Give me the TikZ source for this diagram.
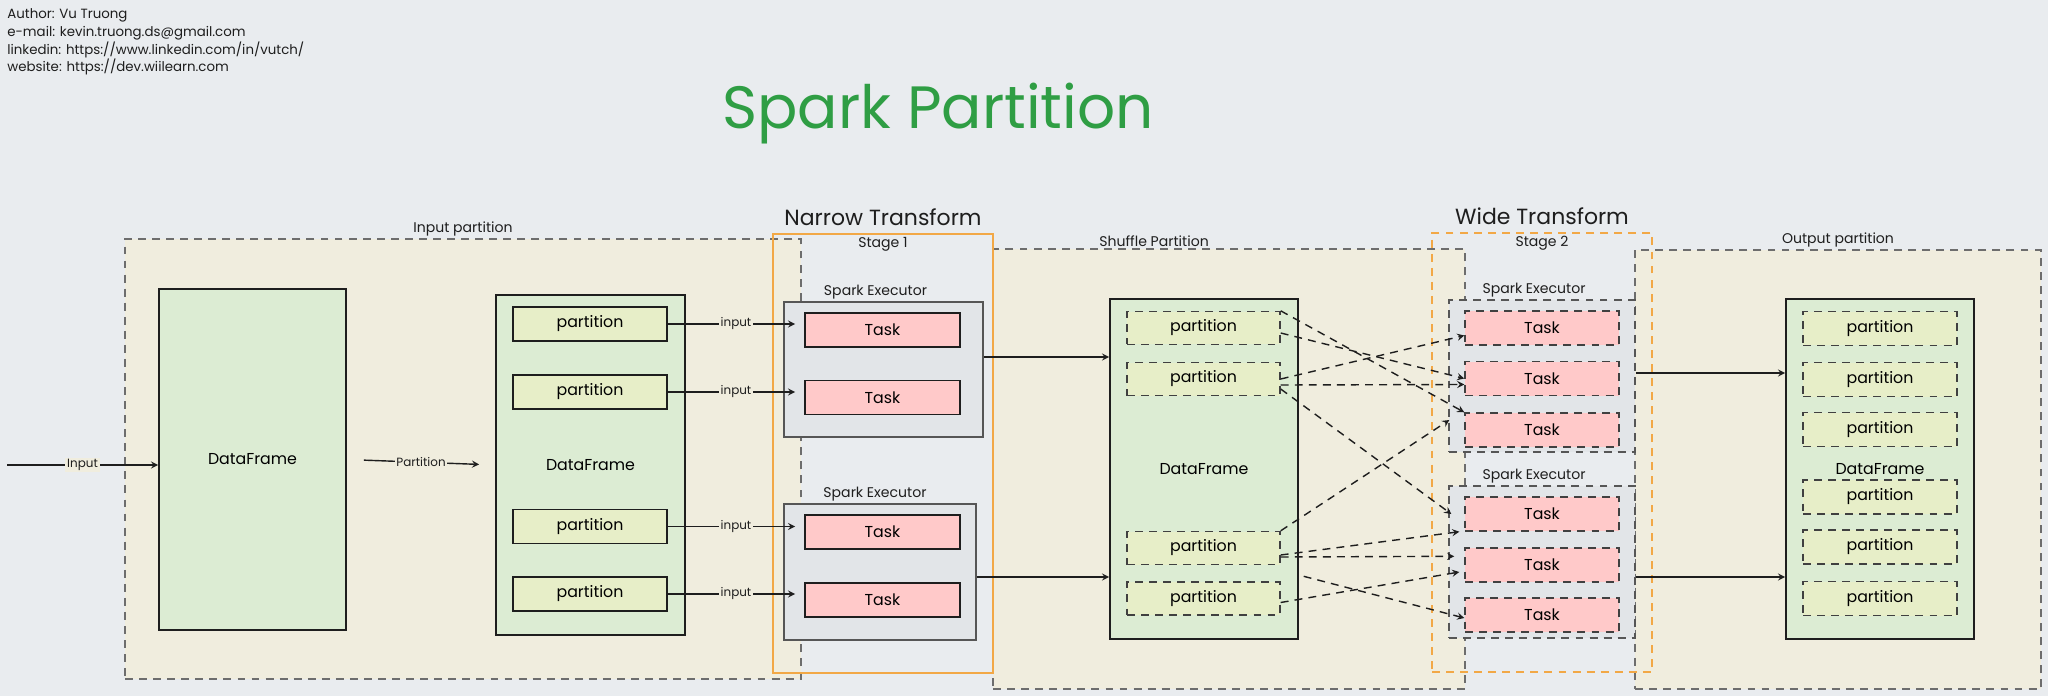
\documentclass[tikz,border=0pt]{standalone}
\usepackage{fontspec}
\setmainfont{Poppins}
\usetikzlibrary{shapes.geometric, arrows, positioning}

\definecolor{canvas}{RGB}{233,236,239}
\definecolor{beige}{RGB}{240,237,222}
\definecolor{dfgreen}{RGB}{220,236,211}
\definecolor{partyellow}{RGB}{231,238,200}
\definecolor{taskpink}{RGB}{255,201,201}
\definecolor{execgray}{RGB}{226,229,232}
\definecolor{stageorange}{RGB}{242,168,70}
\definecolor{titlegreen}{RGB}{47,158,68}
\definecolor{edge}{RGB}{30,30,30}

\begin{document}
\begin{tikzpicture}[x=0.02cm, y=-0.02cm]
        % Define block styles
        \tikzstyle{region} = [rectangle, draw=edge!65, dash pattern=on 4.5pt off 3.5pt, fill=beige, line width=0.8pt, inner sep=0pt]
        \tikzstyle{stage} = [rectangle, draw=stageorange, line width=0.9pt, inner sep=0pt]
        \tikzstyle{dstage} = [stage, dash pattern=on 4.5pt off 3.5pt]
        \tikzstyle{frame} = [rectangle, draw=edge, fill=dfgreen, line width=1pt, minimum width=3.76cm, minimum height=6.8cm, font=\fontsize{9}{11}\selectfont, inner sep=0pt]
        \tikzstyle{part} = [rectangle, draw=edge, fill=partyellow, line width=1pt, minimum width=3.08cm, minimum height=0.68cm, font=\fontsize{9}{11}\selectfont, inner sep=0pt]
        \tikzstyle{dpart} = [part, draw=edge!85, line width=0.8pt, dash pattern=on 4.5pt off 3.5pt]
        \tikzstyle{executor} = [rectangle, draw=edge!75, fill=execgray, line width=0.9pt, inner sep=0pt]
        \tikzstyle{dexecutor} = [executor, dash pattern=on 4.5pt off 3.5pt]
        \tikzstyle{task} = [rectangle, draw=edge, fill=taskpink, line width=1pt, minimum width=3.1cm, minimum height=0.68cm, font=\fontsize{9}{11}\selectfont, inner sep=0pt]
        \tikzstyle{dtask} = [task, draw=edge!85, line width=0.8pt, dash pattern=on 4.5pt off 3.5pt]
        \tikzstyle{arrow} = [->, >=stealth, line width=0.8pt, draw=edge]
        \tikzstyle{shuffle} = [arrow, dash pattern=on 4.5pt off 3.5pt]
        \tikzstyle{lbl} = [font=\fontsize{8}{10}\selectfont, text=edge, inner sep=1pt]
        \tikzstyle{tag} = [font=\fontsize{6.8}{8}\selectfont, text=edge, fill=beige, inner sep=1pt]
        \tikzstyle{heading} = [font=\fontsize{12.5}{15}\selectfont, text=edge, inner sep=1pt]

        \fill[canvas] (0,0) rectangle (2048,696);
        \useasboundingbox (0,0) rectangle (2048,696);

        % Header
        \node (author) [anchor=north west, align=left, font=\fontsize{7.6}{10.2}\selectfont, text=edge, inner sep=0pt] at (7,8) {Author: Vu Truong\\e-mail: kevin.truong.ds@gmail.com\\linkedin: https://www.linkedin.com/in/vutch/\\website: https://dev.wiilearn.com};
        \node (title) [font=\fontsize{34}{40}\selectfont, text=titlegreen] at (938,114) {Spark Partition};

        % Regions
        \node (inreg) [region, minimum width=13.52cm, minimum height=8.8cm, label={[lbl]above:Input partition}] at (463,459) {};
        \node (shreg) [region, minimum width=9.44cm, minimum height=8.8cm, label={[lbl, xshift=-1.5cm]above:Shuffle Partition}] at (1229,469) {};
        \node (outreg) [region, minimum width=8.12cm, minimum height=8.78cm, label={[lbl]above:Output partition}] at (1838,469.5) {};
        \node (stage1) [stage, minimum width=4.4cm, minimum height=8.78cm, label={[lbl, anchor=north, yshift=-1pt]north:Stage 1}, label={[heading, anchor=south, yshift=3pt]north:Narrow Transform}] at (883,453.5) {};
        \node (stage2) [dstage, minimum width=4.4cm, minimum height=8.78cm, label={[lbl, anchor=north, yshift=-1pt]north:Stage 2}, label={[heading, anchor=south, yshift=3pt]north:Wide Transform}] at (1542,452.5) {};

        % Input side
        \coordinate (src) at (7,465);
        \node (df1) [frame, minimum width=3.74cm, minimum height=6.82cm] at (252.5,459.5) {DataFrame};
        \node (df2) [frame, minimum width=3.78cm] at (590.5,465) {DataFrame};
        \node (ip1) [part] at (590,324) {partition};
        \node (ip2) [part] at (590,392) {partition};
        \node (ip3) [part] at (590,526.5) {partition};
        \node (ip4) [part] at (590,594) {partition};

        % Stage 1
        \node (ex1) [executor, minimum width=3.98cm, minimum height=2.7cm, label={[lbl, xshift=-0.16cm]above:Spark Executor}] at (883.5,369.5) {};
        \node (ex2) [executor, minimum width=3.84cm, minimum height=2.72cm, label={[lbl, xshift=-0.1cm]above:Spark Executor}] at (880,572) {};
        \node (t1) [task] at (882.5,330) {Task};
        \node (t2) [task] at (882.5,397.5) {Task};
        \node (t3) [task] at (882.5,532) {Task};
        \node (t4) [task] at (882.5,600) {Task};

        % Shuffle
        \node (df3) [frame] at (1204,469) {DataFrame};
        \node (sp1) [dpart, minimum width=3.06cm, minimum height=0.66cm] at (1203.5,328) {partition};
        \node (sp2) [dpart, minimum width=3.06cm, minimum height=0.66cm] at (1203.5,379) {partition};
        \node (sp3) [dpart, minimum width=3.06cm, minimum height=0.66cm] at (1203.5,548) {partition};
        \node (sp4) [dpart, minimum width=3.06cm, minimum height=0.66cm] at (1203.5,598.5) {partition};

        % Stage 2
        \node (ex3) [dexecutor, minimum width=3.72cm, minimum height=3.04cm, label={[lbl, xshift=-0.16cm]above:Spark Executor}] at (1542,376) {};
        \node (ex4) [dexecutor, minimum width=3.72cm, minimum height=3.04cm, label={[lbl, xshift=-0.16cm]above:Spark Executor}] at (1542,562) {};
        \node (u1) [dtask, minimum width=3.08cm] at (1542,328) {Task};
        \node (u2) [dtask, minimum width=3.08cm] at (1542,378.5) {Task};
        \node (u3) [dtask, minimum width=3.08cm] at (1542,430) {Task};
        \node (u4) [dtask, minimum width=3.08cm] at (1542,514) {Task};
        \node (u5) [dtask, minimum width=3.08cm] at (1542,565) {Task};
        \node (u6) [dtask, minimum width=3.08cm] at (1542,615) {Task};

        % Output
        \node (df4) [frame] at (1880,469) {DataFrame};
        \node (op1) [dpart] at (1880,328.5) {partition};
        \node (op2) [dpart] at (1880,379.5) {partition};
        \node (op3) [dpart] at (1880,429.5) {partition};
        \node (op4) [dpart] at (1880,497) {partition};
        \node (op5) [dpart] at (1880,547) {partition};
        \node (op6) [dpart] at (1880,598.5) {partition};

        % Arrows
        \draw [arrow] (src) -- node[tag] {Input} (src -| df1.west);
        \draw [arrow, shorten <=0.34cm, shorten >=0.32cm] (df1.east) -- node[tag] {Partition} (df2.west);
        \draw [arrow, shorten >=0.18cm] (ip1.east) -- node[tag] {input} (ip1.east -| t1.west);
        \draw [arrow, shorten >=0.18cm] (ip2.east) -- node[tag] {input} (ip2.east -| t2.west);
        \draw [arrow, shorten >=0.18cm] (ip3.east) -- node[tag] {input} (ip3.east -| t3.west);
        \draw [arrow, shorten >=0.18cm] (ip4.east) -- node[tag] {input} (ip4.east -| t4.west);
        \draw [arrow] ([yshift=0.25cm]ex1.east) -- ([yshift=0.25cm]ex1.east -| df3.west);
        \draw [arrow] ([yshift=-0.1cm]ex2.east) -- ([yshift=-0.1cm]ex2.east -| df3.west);
        \draw [arrow] ([yshift=0.06cm]ex3.east) -- ([yshift=0.06cm]ex3.east -| df4.west);
        \draw [arrow] ([yshift=-0.3cm]ex4.east) -- ([yshift=-0.3cm]ex4.east -| df4.west);

        % Shuffle exchange
        \draw [shuffle] (sp1.north east) -- (u3.north west);
        \draw [shuffle] ([yshift=-0.1cm]sp1.east) -- (u2.west);
        \draw [shuffle] (sp2.east) -- ([yshift=-0.15cm]u1.west);
        \draw [shuffle] ([yshift=-0.12cm]sp2.east) -- ([yshift=-0.12cm]u2.west);
        \draw [shuffle] ([yshift=-0.2cm]sp2.east) -- ([xshift=-0.26cm]u4.west);
        \draw [shuffle] (sp3.north east) -- ([xshift=-0.3cm, yshift=0.2cm]u3.west);
        \draw [shuffle] ([yshift=-0.14cm]sp3.east) -- ([xshift=-0.1cm]u4.south west);
        \draw [shuffle] ([yshift=-0.18cm]sp3.east) -- ([xshift=-0.2cm, yshift=-0.18cm]u5.north west);
        \draw [shuffle] ([yshift=-0.08cm]sp4.east) -- ([xshift=-0.1cm, yshift=-0.14cm]u5.west);
        \draw [shuffle] ([xshift=0.46cm, yshift=0.1cm]sp4.north east) -- ([yshift=-0.06cm]u6.west);
\end{tikzpicture}
\end{document}
